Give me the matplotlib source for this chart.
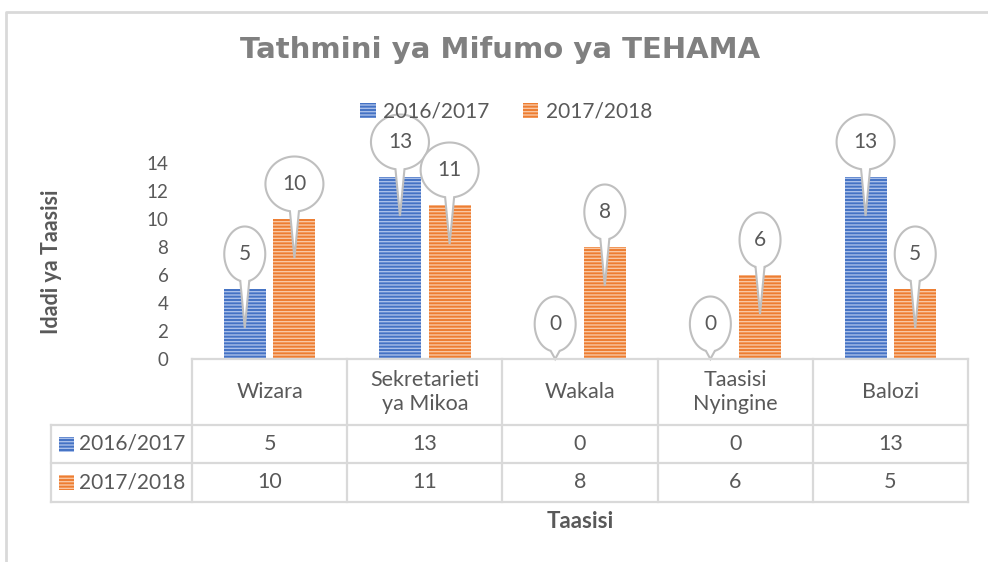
import numpy as np
import matplotlib
matplotlib.use("Agg")
import matplotlib.pyplot as plt
from matplotlib.path import Path
from matplotlib.patches import PathPatch, Rectangle
from matplotlib.lines import Line2D
from matplotlib.transforms import ScaledTranslation

# ---------------- data ----------------
categories = ["Wizara", "Sekretarieti\nya Mikoa", "Wakala", "Taasisi\nNyingine", "Balozi"]
series_names = ["2016/2017", "2017/2018"]
values_2016 = [5, 13, 0, 0, 13]
values_2017 = [10, 11, 8, 6, 5]
yticks = [0, 2, 4, 6, 8, 10, 12, 14]
title = "Tathmini ya Mifumo ya TEHAMA"
ylabel = "Idadi ya Taasisi"
xlabel = "Taasisi"

# ---------------- style ----------------
plt.rcParams['font.family'] = ['Lato', 'DejaVu Sans']
plt.rcParams['hatch.linewidth'] = 1.0
TXT = '#595959'
GRID = '#d9d9d9'
BLUE, BLUE_H = '#4472c4', '#a9bfe9'
ORANGE, ORANGE_H = '#ed7d31', '#f9c7a3'

W, H = 988, 562
DPI = 100
fig = plt.figure(figsize=(W / DPI, H / DPI), dpi=DPI)
fig.patch.set_facecolor('white')

def X(px):
    return px / W

def Y(px):
    return 1 - px / H

ax_left, ax_right, ax_top, ax_bottom = 192, 968, 163, 359
ax = fig.add_axes([X(ax_left), Y(ax_bottom), (ax_right - ax_left) / W, (ax_bottom - ax_top) / H])
ax.set_xlim(-0.5, len(categories) - 0.5)
ax.set_ylim(0, 14)
for s in ax.spines.values():
    s.set_visible(False)
ax.set_xticks([])
ax.set_yticks(yticks)
ax.set_yticklabels([str(t) for t in yticks])
ax.tick_params(axis='y', length=0, pad=17, labelsize=13.5, labelcolor=TXT)

x = np.arange(len(categories))
off, bw = 0.16, 0.27
ax.bar(x - off, values_2016, bw, color=BLUE, hatch='-----', edgecolor=BLUE_H, linewidth=0, zorder=2)
ax.bar(x + off, values_2017, bw, color=ORANGE, hatch='-----', edgecolor=ORANGE_H, linewidth=0, zorder=2)

# ---------------- callout bubbles ----------------
ppu = (ax_bottom - ax_top) / 14.0  # px per data unit

def bubble(xc, v):
    label = str(v)
    a = 20.5 if len(label) == 1 else 29.0
    b = 27.5
    cy = 35.0
    tip = -min(39.0, v * ppu)
    s = np.arcsin(4.5 / a)
    t = np.linspace(-np.pi / 2 + s, 3 * np.pi / 2 - s, 120)
    px = a * np.cos(t)
    py = cy + b * np.sin(t)
    verts = np.column_stack([np.r_[px, 0.0, px[0]], np.r_[py, tip, py[0]]]) / DPI
    codes = [Path.MOVETO] + [Path.LINETO] * (len(verts) - 2) + [Path.CLOSEPOLY]
    trans = fig.dpi_scale_trans + ScaledTranslation(xc, v, ax.transData)
    patch = PathPatch(Path(verts, codes), facecolor='white', edgecolor='#bfbfbf',
                      linewidth=1.5, transform=trans, clip_on=False, zorder=5)
    ax.add_patch(patch)
    ax.text(0, cy / DPI, label, transform=trans, ha='center', va='center',
            fontsize=15, color=TXT, zorder=6, clip_on=False)

for xi, v in zip(x, values_2016):
    bubble(xi - off, v)
for xi, v in zip(x, values_2017):
    bubble(xi + off, v)

# ---------------- legend ----------------
fig.legend(handles=[Rectangle((0, 0), 1, 1, facecolor=BLUE, hatch='-----', edgecolor=BLUE_H, linewidth=0),
                    Rectangle((0, 0), 1, 1, facecolor=ORANGE, hatch='-----', edgecolor=ORANGE_H, linewidth=0)],
           labels=series_names, loc='center', bbox_to_anchor=(X(506), Y(112)), ncol=2, frameon=False,
           fontsize=15, labelcolor=TXT, handlelength=0.75, handleheight=0.75, handletextpad=0.35,
           columnspacing=1.6)

# ---------------- data table ----------------
def hline(y, x0, x1):
    fig.add_artist(Line2D([X(x0), X(x1)], [Y(y), Y(y)], color=GRID, lw=1.6, zorder=1))

def vline(xp, y0, y1):
    fig.add_artist(Line2D([X(xp), X(xp)], [Y(y0), Y(y1)], color=GRID, lw=1.6, zorder=1))

ncol = len(categories)
colw = (ax_right - ax_left) / ncol
edges = [ax_left + i * colw for i in range(ncol + 1)]
row_y = [359, 425, 463, 502]
left_px = 51

hline(row_y[0], edges[0], edges[-1])
for yy in row_y[1:]:
    hline(yy, left_px, edges[-1])
for e in edges:
    vline(e, row_y[0], row_y[-1])
vline(left_px, row_y[1], row_y[-1])

for i, cat in enumerate(categories):
    cx = (edges[i] + edges[i + 1]) / 2
    fig.text(X(cx), Y(392), cat, ha='center', va='center', fontsize=15.5, color=TXT, linespacing=1.3)
    fig.text(X(cx), Y((row_y[1] + row_y[2]) / 2), str(values_2016[i]), ha='center', va='center',
             fontsize=15.5, color=TXT)
    fig.text(X(cx), Y((row_y[2] + row_y[3]) / 2), str(values_2017[i]), ha='center', va='center',
             fontsize=15.5, color=TXT)

for r, (name, fc, hc) in enumerate([(series_names[0], BLUE, BLUE_H), (series_names[1], ORANGE, ORANGE_H)]):
    cy = (row_y[r + 1] + row_y[r + 2]) / 2
    fig.add_artist(Rectangle((X(59), Y(cy + 7.5)), 15 / W, 15 / H, facecolor=fc, hatch='-----',
                             edgecolor=hc, linewidth=0, transform=fig.transFigure))
    fig.text(X(79), Y(cy), name, ha='left', va='center', fontsize=15, color=TXT)

# ---------------- labels & title ----------------
fig.text(X(52), Y(262), ylabel, rotation=90, ha='center', va='center', fontsize=15.5,
         fontweight='bold', color=TXT)
fig.text(X(580), Y(521), xlabel, ha='center', va='center', fontsize=16, fontweight='bold', color=TXT)
fig.text(X(500), Y(50), title, ha='center', va='center', fontsize=21, fontweight='bold',
         color='#808080', family=['DejaVu Sans'])

# ---------------- chart frame ----------------
fig.add_artist(Line2D([X(6), X(6), X(988)], [Y(562), Y(12), Y(12)], color=GRID, lw=2))

fig.savefig('out.png', dpi=DPI)
